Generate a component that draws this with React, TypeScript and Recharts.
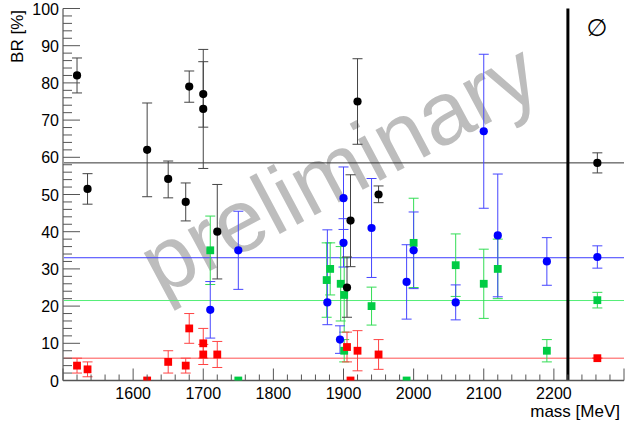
import React from 'react';
import { ScatterChart, Scatter, XAxis, YAxis, ErrorBar, ReferenceLine } from 'recharts';

// ---- data ----
const blackMass = [1520, 1535, 1620, 1650, 1675, 1680, 1700, 1700, 1720, 1905, 1910, 1920, 1950, 2262];
const blackVal = [82, 51.5, 62, 54.2, 48, 79, 77, 73, 40, 25, 43, 75, 50, 58.5];
const blackErrLo = [4.7, 4.1, 12.6, 5.1, 5.1, 4.2, 8.9, 16, 12.7, 8, 12.4, 11.5, 2.2, 2.7];
const blackErrHi = [4.7, 4.1, 12.6, 4.8, 5.1, 4.2, 12, 12.7, 12.7, 8.2, 12.3, 11.5, 2.3, 2.7];

const blueMass = [1710, 1750, 1877, 1895, 1900, 1900, 1940, 1990, 2000, 2060, 2100, 2120, 2190, 2262];
const blueVal = [19, 35, 21, 11, 49, 37, 41, 26.5, 35, 21, 67, 39, 32, 33.2];
const blueErrLo = [7.6, 10.5, 6, 3.7, 8.4, 6.5, 13.3, 10, 10.3, 4.7, 20.7, 16.5, 6.4, 3];
const blueErrHi = [7.6, 10.5, 19.5, 3.7, 8.4, 6.5, 13.3, 10, 10.3, 4.7, 20.7, 16.5, 6.4, 3];

const greenMass = [1710, 1750, 1876, 1881, 1896, 1901, 1901, 1940, 1990, 2000, 2060, 2100, 2120, 2190, 2262];
const greenVal = [35, 0, 27, 30, 26, 23, 8, 20, 0, 37, 31, 26, 30, 8, 21.6];
const greenErr = [9.2, 0, 10, 7, 10, 10, 3, 5.1, 0, 12, 8.4, 9.3, 8, 3, 2.1];

const redMass = [1520, 1535, 1620, 1650, 1675, 1680, 1700, 1700, 1720, 1905, 1910, 1920, 1950, 2262];
const redVal = [4, 3, 0, 5, 4, 14, 10, 7, 7, 9, 0, 8, 7, 6];
const redErr = [2, 2, 0, 3, 2, 4, 4, 2.7, 3.5, 4, 0, 5.4, 4, 0];

// average lines
const avgBlack = 58.5;
const avgBlue = 33;
const avgGreen = 21.5;
const avgRed = 6;
const separatorMass = 2220;

const xMajorTicks = [1500, 1600, 1700, 1800, 1900, 2000, 2100, 2200, 2300];
const xLabels = ['', '1600', '1700', '1800', '1900', '2000', '2100', '2200', ''];
const yMajorTicks = [0, 10, 20, 30, 40, 50, 60, 70, 80, 90, 100];
const yLabels = ['0', '10', '20', '30', '40', '50', '60', '70', '80', '90', '100'];

const subdivide = (majors: number[], n: number) => {
  const out: number[] = [];
  for (let i = 0; i < majors.length - 1; i++) {
    const step = (majors[i + 1] - majors[i]) / n;
    for (let k = 0; k < n; k++) out.push(majors[i] + k * step);
  }
  out.push(majors[majors.length - 1]);
  return out;
};
const xTicks = subdivide(xMajorTicks, 5);
const yTicks = subdivide(yMajorTicks, 5);

const build = (mass: number[], val: number[], lo: number[], hi: number[]) =>
  mass.map((m, i) => ({ m, v: val[i], err: [lo[i], hi[i]] }));

const blackData = build(blackMass, blackVal, blackErrLo, blackErrHi);
const blueData = build(blueMass, blueVal, blueErrLo, blueErrHi);
const greenData = build(greenMass, greenVal, greenErr, greenErr);
const redData = build(redMass, redVal, redErr, redErr);

const FONT = 'Liberation Sans, Arial, Helvetica, sans-serif';

const circleShape = (color: string) => (p: any) => (
  <circle cx={p.cx} cy={p.cy} r={4.1} fill={color} />
);
const squareShape = (color: string) => (p: any) => (
  <rect x={p.cx - 3.9} y={p.cy - 3.9} width={7.8} height={7.8} fill={color} />
);

const xLabelOf = (v: number) => {
  const i = xMajorTicks.indexOf(v);
  return i >= 0 ? xLabels[i] : null;
};
const yLabelOf = (v: number) => {
  const i = yMajorTicks.indexOf(v);
  return i >= 0 ? yLabels[i] : null;
};

const BottomTick = (p: any) => {
  const v = p.payload.value;
  const major = xMajorTicks.includes(v);
  const len = major ? 12 : 6;
  const lab = xLabelOf(v);
  return (
    <g>
      <line x1={p.x} x2={p.x} y1={p.y} y2={p.y - len} stroke="#555" strokeWidth={1} />
      {lab ? (
        <text x={p.x} y={p.y + 18} textAnchor="middle" fontSize={16} fontFamily={FONT} fill="#000">
          {lab}
        </text>
      ) : null}
    </g>
  );
};
const TopTick = (p: any) => {
  const v = p.payload.value;
  const major = xMajorTicks.includes(v);
  const len = major ? 11 : 6;
  return <line x1={p.x} x2={p.x} y1={p.y} y2={p.y + len} stroke="#555" strokeWidth={1} />;
};
const LeftTick = (p: any) => {
  const v = p.payload.value;
  const major = yMajorTicks.includes(v);
  const len = major ? 17 : 9;
  const lab = yLabelOf(v);
  return (
    <g>
      <line x1={p.x} x2={p.x + len} y1={p.y} y2={p.y} stroke="#555" strokeWidth={1} />
      {lab ? (
        <text x={p.x - 4} y={p.y + 6} textAnchor="end" fontSize={16} fontFamily={FONT} fill="#000">
          {lab}
        </text>
      ) : null}
    </g>
  );
};
const RightTick = (p: any) => {
  const v = p.payload.value;
  const major = yMajorTicks.includes(v);
  const len = major ? 17 : 9;
  return <line x1={p.x} x2={p.x - len} y1={p.y} y2={p.y} stroke="#555" strokeWidth={1} />;
};

export default function App() {
  return (
    <div style={{ position: 'absolute', left: 0, top: 0, width: 625, height: 423, background: '#fff' }}>
      <svg width={625} height={423} style={{ position: 'absolute', left: 0, top: 0 }}>
        <text
          x={353}
          y={195}
          textAnchor="middle"
          fontSize={89}
          fontFamily={FONT}
          fill="#bdbdbd"
          transform="rotate(-28 353 195)"
        >
          preliminary
        </text>
      </svg>
      <div style={{ position: 'absolute', left: 0, top: 0 }}>
        <ScatterChart width={625} height={423} margin={{ top: 8.5, right: 1, bottom: 12.5, left: 0 }}>
          <XAxis
            xAxisId="b"
            dataKey="m"
            type="number"
            domain={[1500, 2300]}
            ticks={xTicks}
            interval={0}
            allowDataOverflow
            orientation="bottom"
            height={30}
            tickSize={0}
            tickMargin={0}
            tick={<BottomTick />}
            axisLine={{ stroke: '#555', strokeWidth: 1.5 }}
          />
          <XAxis
            xAxisId="t"
            type="number"
            domain={[1500, 2300]}
            ticks={xTicks}
            interval={0}
            allowDataOverflow
            orientation="top"
            height={0}
            tickSize={0}
            tickMargin={0}
            tick={<TopTick />}
            axisLine={{ stroke: '#aaa', strokeWidth: 1.5 }}
          />
          <YAxis
            yAxisId="l"
            dataKey="v"
            type="number"
            domain={[0, 100]}
            ticks={yTicks}
            interval={0}
            allowDataOverflow
            orientation="left"
            width={63}
            tickSize={0}
            tickMargin={0}
            tick={<LeftTick />}
            axisLine={{ stroke: '#999', strokeWidth: 2 }}
          />
          <YAxis
            yAxisId="r"
            type="number"
            domain={[0, 100]}
            ticks={yTicks}
            interval={0}
            allowDataOverflow
            orientation="right"
            width={0}
            tickSize={0}
            tickMargin={0}
            tick={<RightTick />}
            axisLine={{ stroke: '#aaa', strokeWidth: 1.5 }}
          />
          <ReferenceLine xAxisId="b" yAxisId="l" y={avgBlack} stroke="#333" strokeWidth={1} />
          <ReferenceLine xAxisId="b" yAxisId="l" y={avgBlue} stroke="#3d3dff" strokeWidth={1} />
          <ReferenceLine xAxisId="b" yAxisId="l" y={avgGreen} stroke="#55ee77" strokeWidth={1} />
          <ReferenceLine xAxisId="b" yAxisId="l" y={avgRed} stroke="#ff5050" strokeWidth={1} />
          <ReferenceLine xAxisId="b" yAxisId="l" x={separatorMass} stroke="#000" strokeWidth={3} />
          <Scatter xAxisId="b" yAxisId="l" data={greenData} isAnimationActive={false} shape={squareShape('#00cc44')}>
            <ErrorBar dataKey="err" direction="y" width={5} stroke="#33dd55" strokeWidth={1} />
          </Scatter>
          <Scatter xAxisId="b" yAxisId="l" data={redData} isAnimationActive={false} shape={squareShape('#ff0000')}>
            <ErrorBar dataKey="err" direction="y" width={5} stroke="#ff4444" strokeWidth={1} />
          </Scatter>
          <Scatter xAxisId="b" yAxisId="l" data={blueData} isAnimationActive={false} shape={circleShape('#0000ff')}>
            <ErrorBar dataKey="err" direction="y" width={5} stroke="#4646ff" strokeWidth={1} />
          </Scatter>
          <Scatter xAxisId="b" yAxisId="l" data={blackData} isAnimationActive={false} shape={circleShape('#000')}>
            <ErrorBar dataKey="err" direction="y" width={5} stroke="#444" strokeWidth={1} />
          </Scatter>
        </ScatterChart>
      </div>
      <svg width={625} height={423} style={{ position: 'absolute', left: 0, top: 0, pointerEvents: 'none' }}>
        <text
          x={17}
          y={10}
          textAnchor="end"
          fontSize={17}
          fontFamily={FONT}
          fill="#000"
          transform="rotate(-90 17 10)"
          dy={6}
        >
          BR [%]
        </text>
        <text x={620} y={417} textAnchor="end" fontSize={17} fontFamily={FONT} fill="#000">
          mass [MeV]
        </text>
        <text x={597} y={36} textAnchor="middle" fontSize={24} fontFamily="DejaVu Sans" fill="#000">
          ∅
        </text>
      </svg>
    </div>
  );
}
